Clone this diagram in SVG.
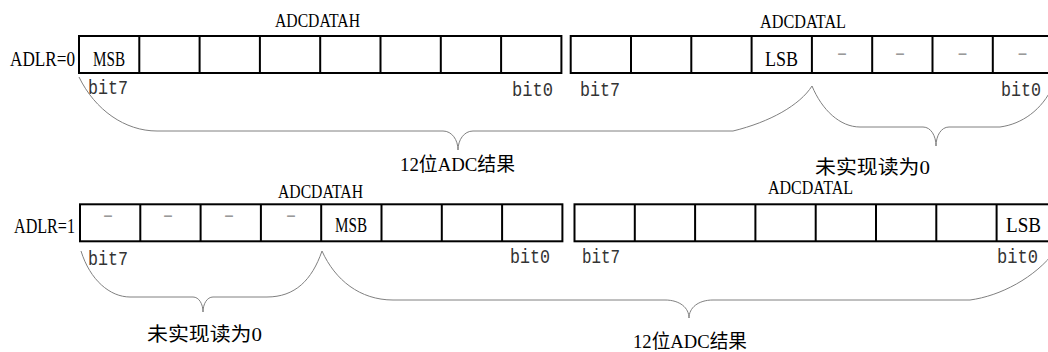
<svg xmlns="http://www.w3.org/2000/svg" width="1048" height="352" viewBox="0 0 1048 352">
<style>
.cell{fill:#fff;stroke:#000;stroke-width:2}
.div{stroke:#000;stroke-width:2}
.lbl{font-family:"Liberation Serif","Noto Sans CJK SC",serif;font-size:22px;fill:#000}
.reg{font-family:"Liberation Serif","Noto Sans CJK SC",serif;font-size:19px;fill:#000}
.bit{font-family:"Liberation Mono",monospace;font-size:21px;fill:#333}
.dash{font-family:"Liberation Serif",serif;font-size:22px;fill:#999;text-anchor:middle}
.cjk{font-family:"Liberation Serif","Noto Sans CJK SC",sans-serif;font-size:19px;fill:#000}
.brace{fill:none;stroke:#808080;stroke-width:1}
</style>
<rect width="1048" height="352" fill="#fff"/>

<g id="row1-adlr">
<text class="lbl" x="10" y="66" textLength="65" lengthAdjust="spacingAndGlyphs">ADLR=0</text>
</g>
<g id="row1-adcdatah">
<text class="reg" x="275" y="27" textLength="85" lengthAdjust="spacingAndGlyphs">ADCDATAH</text>
<rect class="cell" x="79" y="36" width="482.4" height="37"/>
<path class="div" d="M139.3,36V73M199.6,36V73M259.9,36V73M320.2,36V73M380.5,36V73M440.8,36V73M501.1,36V73"/>
<text class="lbl" x="93" y="66" textLength="32" lengthAdjust="spacingAndGlyphs">MSB</text>
<text class="bit" x="88" y="94" textLength="40" lengthAdjust="spacingAndGlyphs">bit7</text>
<text class="bit" x="512" y="96" textLength="41" lengthAdjust="spacingAndGlyphs">bit0</text>
</g>
<g id="row1-adcdatal">
<text class="reg" x="760" y="28" textLength="86" lengthAdjust="spacingAndGlyphs">ADCDATAL</text>
<rect class="cell" x="570.7" y="36" width="482.4" height="37"/>
<path class="div" d="M631,36V73M691.3,36V73M751.6,36V73M811.9,36V73M872.2,36V73M932.5,36V73M992.8,36V73"/>
<text class="lbl" x="765" y="66" textLength="33" lengthAdjust="spacingAndGlyphs">LSB</text>
<text class="dash" x="842" y="59" textLength="10" lengthAdjust="spacingAndGlyphs">-</text>
<text class="dash" x="900" y="59" textLength="10" lengthAdjust="spacingAndGlyphs">-</text>
<text class="dash" x="962.5" y="59" textLength="10" lengthAdjust="spacingAndGlyphs">-</text>
<text class="dash" x="1022.5" y="59" textLength="10" lengthAdjust="spacingAndGlyphs">-</text>
<text class="bit" x="580" y="96" textLength="40" lengthAdjust="spacingAndGlyphs">bit7</text>
<text class="bit" x="1001" y="96" textLength="40" lengthAdjust="spacingAndGlyphs">bit0</text>
</g>

<g id="row2-adlr">
<text class="lbl" x="14" y="233" textLength="61" lengthAdjust="spacingAndGlyphs">ADLR=1</text>
</g>
<g id="row2-adcdatah">
<text class="reg" x="278" y="198" textLength="85" lengthAdjust="spacingAndGlyphs">ADCDATAH</text>
<rect class="cell" x="80" y="204.3" width="482.4" height="37"/>
<path class="div" d="M140.3,204.3V241.3M200.6,204.3V241.3M260.9,204.3V241.3M321.2,204.3V241.3M381.5,204.3V241.3M441.8,204.3V241.3M502.1,204.3V241.3"/>
<text class="dash" x="108" y="221" textLength="10" lengthAdjust="spacingAndGlyphs">-</text>
<text class="dash" x="168" y="221" textLength="10" lengthAdjust="spacingAndGlyphs">-</text>
<text class="dash" x="229" y="221" textLength="10" lengthAdjust="spacingAndGlyphs">-</text>
<text class="dash" x="291" y="221" textLength="10" lengthAdjust="spacingAndGlyphs">-</text>
<text class="lbl" x="335" y="232" textLength="32" lengthAdjust="spacingAndGlyphs">MSB</text>
<text class="bit" x="88" y="265" textLength="40" lengthAdjust="spacingAndGlyphs">bit7</text>
<text class="bit" x="510" y="263" textLength="40" lengthAdjust="spacingAndGlyphs">bit0</text>
</g>
<g id="row2-adcdatal">
<text class="reg" x="768" y="194" textLength="85" lengthAdjust="spacingAndGlyphs">ADCDATAL</text>
<rect class="cell" x="574.5" y="204.3" width="482.4" height="37"/>
<path class="div" d="M634.8,204.3V241.3M695.1,204.3V241.3M755.4,204.3V241.3M815.7,204.3V241.3M876,204.3V241.3M936.3,204.3V241.3M996.6,204.3V241.3"/>
<text class="lbl" x="1006" y="232" textLength="35" lengthAdjust="spacingAndGlyphs">LSB</text>
<text class="bit" x="582" y="263" textLength="38" lengthAdjust="spacingAndGlyphs">bit7</text>
<text class="bit" x="997" y="263" textLength="41" lengthAdjust="spacingAndGlyphs">bit0</text>
</g>

<g id="connectors">
<path class="brace" d="M79,77 C95,110 125,131 157,131 L443,131 C452,131 458,140 458,150 C458,140 464,131 473,131 L733,131 C770,122 800,105 812,86"/>
<path class="brace" d="M812,86 C822,110 840,127 860,127 L923,127 C931,127 936,136 936,146 C936,136 941,127 949,127 L1000,127 C1022,124 1042,110 1053,86"/>
<path class="brace" d="M81,251 C90,280 110,297 130,297 L193,297 C199,297 203,304 203,312 C203,304 207,297 213,297 L267,297 C295,297 312,280 322,251"/>
<path class="brace" d="M322,251 C335,280 360,300 393,300 L665,300 C680,300 689,308 689,318 C689,308 698,300 713,300 L970,300 C1000,296 1035,278 1056,250"/>
</g>

<g id="labels">
<text class="cjk" x="400" y="171" textLength="115" lengthAdjust="spacingAndGlyphs">12位ADC结果</text>
<text class="cjk" x="815" y="174" textLength="115" lengthAdjust="spacingAndGlyphs">未实现读为0</text>
<text class="cjk" x="147" y="341" textLength="115" lengthAdjust="spacingAndGlyphs">未实现读为0</text>
<text class="cjk" x="633" y="348" textLength="114" lengthAdjust="spacingAndGlyphs">12位ADC结果</text>
</g>
</svg>
